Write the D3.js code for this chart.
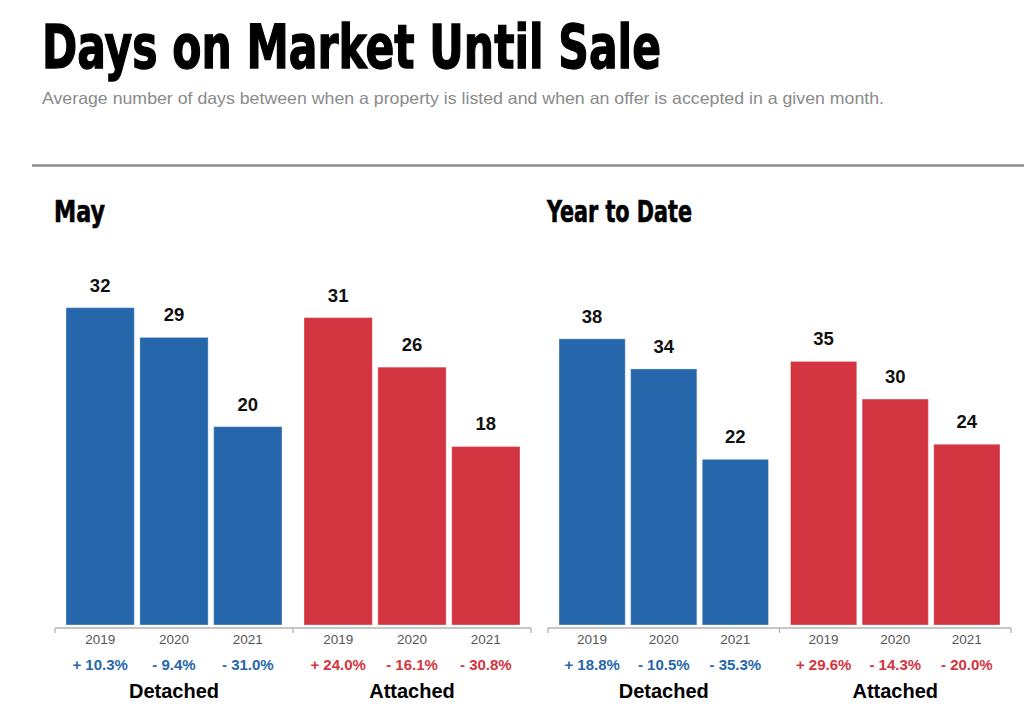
<!DOCTYPE html>
<html>
<head>
<meta charset="utf-8">
<script src="https://cdn.jsdelivr.net/npm/d3@7"></script>
<style>
  html, body { margin: 0; padding: 0; background: #fff; }
  svg { display: block; }
  .cond { font-family: "Liberation Sans Narrow", "DejaVu Sans Condensed", "Liberation Sans", sans-serif; font-weight: bold; }
  .sans { font-family: "Liberation Sans", Arial, Helvetica, sans-serif; }
</style>
</head>
<body>
<div id="chart"></div>
<script>
// ---- data ----
const years = ['2019', '2020', '2021'];
const groups = ['Detached', 'Attached'];

const mayDetached = [32, 29, 20];
const mayAttached = [31, 26, 18];
const mayDetachedChg = ['+ 10.3%', '- 9.4%', '- 31.0%'];
const mayAttachedChg = ['+ 24.0%', '- 16.1%', '- 30.8%'];

const ytdDetached = [38, 34, 22];
const ytdAttached = [35, 30, 24];
const ytdDetachedChg = ['+ 18.8%', '- 10.5%', '- 35.3%'];
const ytdAttachedChg = ['+ 29.6%', '- 14.3%', '- 20.0%'];

const colors = { Detached: '#2667ab', Attached: '#d23540' };

const panels = [
  {
    title: 'May', titleW: 51,
    x0: 55, x1: 531, yMax: 36.3,
    series: { Detached: mayDetached, Attached: mayAttached },
    changes: { Detached: mayDetachedChg, Attached: mayAttachedChg }
  },
  {
    title: 'Year to Date', titleW: 145,
    x0: 548, x1: 1011, yMax: 47.8,
    series: { Detached: ytdDetached, Attached: ytdAttached },
    changes: { Detached: ytdDetachedChg, Attached: ytdAttachedChg }
  }
];

const width = 1024;
const height = 713;
const baseY = 625;
const axisY = 628;
const topY = 265;

const svg = d3.select('#chart').append('svg')
  .attr('width', width)
  .attr('height', height);

// header
svg.append('text')
  .attr('class', 'cond')
  .attr('x', 42)
  .attr('y', 68)
  .attr('font-size', 60)
  .attr('textLength', 619)
  .attr('lengthAdjust', 'spacingAndGlyphs')
  .attr('fill', '#000')
  .attr('stroke', '#000')
  .attr('stroke-width', 1.3)
  .text('Days on Market Until Sale');

svg.append('text')
  .attr('class', 'sans')
  .attr('x', 42)
  .attr('y', 104)
  .attr('font-size', 16.5)
  .attr('textLength', 842)
  .attr('lengthAdjust', 'spacingAndGlyphs')
  .attr('fill', '#8a8a8a')
  .text('Average number of days between when a property is listed and when an offer is accepted in a given month.');

svg.append('line')
  .attr('x1', 32).attr('x2', width)
  .attr('y1', 165.5).attr('y2', 165.5)
  .attr('stroke', '#8c8c8c')
  .attr('stroke-width', 2.5);

let y = d3.scaleLinear().range([baseY, topY]);

panels.forEach((p) => {
  let g = svg.append('g').attr('class', 'panel');

  g.append('text')
    .attr('class', 'cond')
    .attr('x', p.x0 - 1)
    .attr('y', 222)
    .attr('font-size', 30)
    .attr('textLength', p.titleW)
    .attr('lengthAdjust', 'spacingAndGlyphs')
    .attr('fill', '#000')
    .attr('stroke', '#000')
    .attr('stroke-width', 0.6)
    .text(p.title);

  let outer = d3.scaleBand().domain(groups).range([p.x0, p.x1]);
  let inner = d3.scaleBand()
    .domain(years)
    .range([11, outer.bandwidth() - 11])
    .paddingInner(0.075);

  y.domain([0, p.yMax]);

  // axis line with ticks at group boundaries
  let edges = groups.map((k) => outer(k)).concat([p.x1]);
  g.append('line')
    .attr('x1', p.x0).attr('x2', p.x1)
    .attr('y1', axisY).attr('y2', axisY)
    .attr('stroke', '#b3b3b3')
    .attr('stroke-width', 1.3);
  g.selectAll('line.tick')
    .data(edges)
    .enter()
    .append('line')
    .attr('class', 'tick')
    .attr('x1', (d) => d).attr('x2', (d) => d)
    .attr('y1', axisY).attr('y2', axisY + 5)
    .attr('stroke', '#b3b3b3')
    .attr('stroke-width', 1.3);

  groups.forEach((k) => {
    let gg = g.append('g').attr('transform', `translate(${outer(k)},0)`);
    let vals = p.series[k].map((v, i) => ({ year: years[i], v: v, chg: p.changes[k][i] }));

    gg.selectAll('rect')
      .data(vals)
      .enter()
      .append('rect')
      .attr('x', (d) => inner(d.year))
      .attr('y', (d) => y(d.v))
      .attr('width', inner.bandwidth())
      .attr('height', (d) => baseY - y(d.v))
      .attr('fill', colors[k])
      .attr('stroke', 'rgba(255,255,255,0.35)')
      .attr('stroke-width', 1);

    gg.selectAll('text.val')
      .data(vals)
      .enter()
      .append('text')
      .attr('class', 'val sans')
      .attr('x', (d) => inner(d.year) + inner.bandwidth() / 2)
      .attr('y', (d) => y(d.v) - 16)
      .attr('text-anchor', 'middle')
      .attr('font-size', 18.5)
      .attr('font-weight', 'bold')
      .attr('fill', '#111')
      .text((d) => d.v);

    gg.selectAll('text.year')
      .data(vals)
      .enter()
      .append('text')
      .attr('class', 'year sans')
      .attr('x', (d) => inner(d.year) + inner.bandwidth() / 2)
      .attr('y', 644)
      .attr('text-anchor', 'middle')
      .attr('font-size', 13.5)
      .attr('fill', '#555')
      .text((d) => d.year);

    gg.selectAll('text.chg')
      .data(vals)
      .enter()
      .append('text')
      .attr('class', 'chg sans')
      .attr('x', (d) => inner(d.year) + inner.bandwidth() / 2)
      .attr('y', 670)
      .attr('text-anchor', 'middle')
      .attr('font-size', 15)
      .attr('font-weight', 'bold')
      .attr('fill', colors[k])
      .text((d) => d.chg);

    gg.append('text')
      .attr('class', 'sans')
      .attr('x', outer.bandwidth() / 2)
      .attr('y', 698)
      .attr('text-anchor', 'middle')
      .attr('font-size', 20)
      .attr('font-weight', 'bold')
      .attr('fill', '#000')
      .text(k);
  });
});
</script>
</body>
</html>
